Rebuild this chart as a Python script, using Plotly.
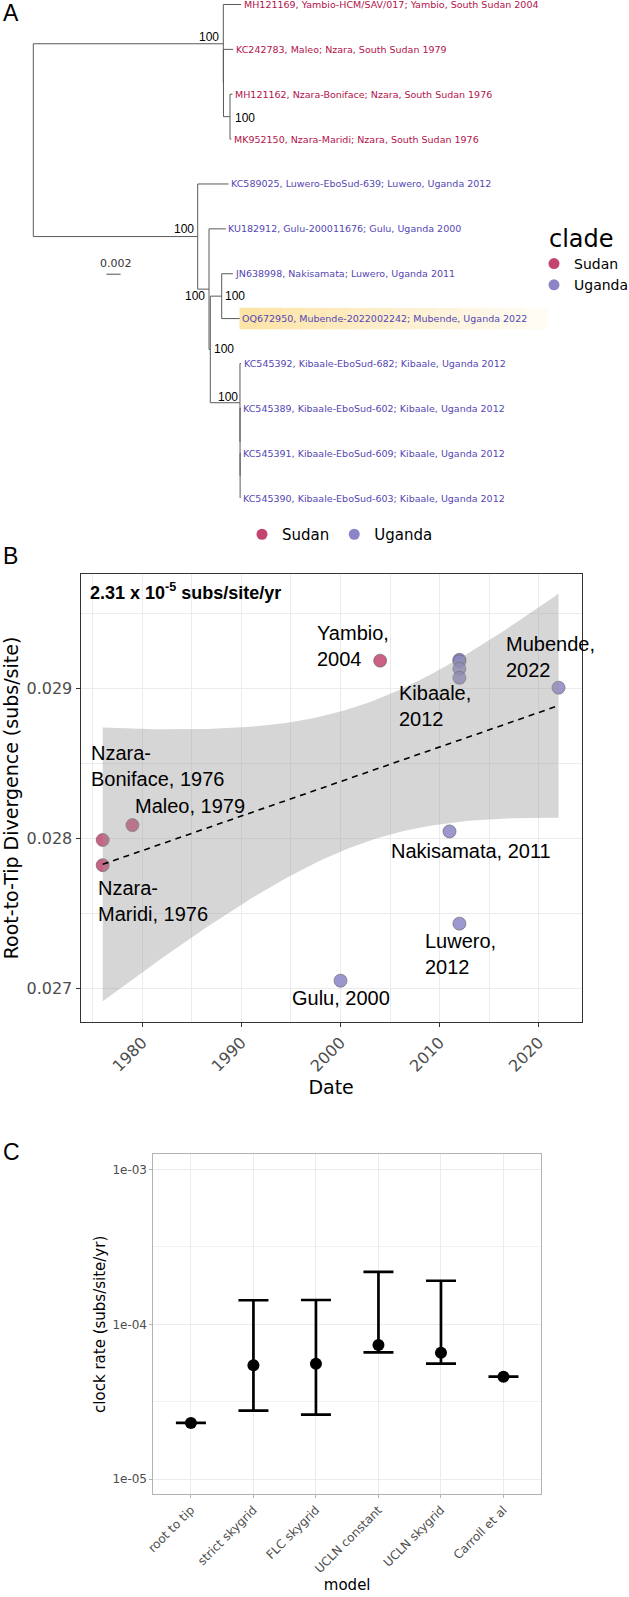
import numpy as np
import plotly.graph_objects as go

W, H = 629, 1597

# ---------------- data: tips (tree order, top to bottom) ----------------
tip_labels = [
    "MH121169, Yambio-HCM/SAV/017; Yambio, South Sudan 2004",
    "KC242783, Maleo; Nzara, South Sudan 1979",
    "MH121162, Nzara-Boniface; Nzara, South Sudan 1976",
    "MK952150, Nzara-Maridi; Nzara, South Sudan 1976",
    "KC589025, Luwero-EboSud-639; Luwero, Uganda 2012",
    "KU182912, Gulu-200011676; Gulu, Uganda 2000",
    "JN638998, Nakisamata; Luwero, Uganda 2011",
    "OQ672950, Mubende-2022002242; Mubende, Uganda 2022",
    "KC545392, Kibaale-EboSud-682; Kibaale, Uganda 2012",
    "KC545389, Kibaale-EboSud-602; Kibaale, Uganda 2012",
    "KC545391, Kibaale-EboSud-609; Kibaale, Uganda 2012",
    "KC545390, Kibaale-EboSud-603; Kibaale, Uganda 2012",
]
tip_clade = ["Sudan"] * 4 + ["Uganda"] * 8
tip_year = [2004, 1979, 1976, 1976, 2012, 2000, 2011, 2022, 2012, 2012, 2012, 2012]
tip_rtt = [0.029184, 0.028089, 0.027990, 0.027822, 0.027433, 0.027053,
           0.028047, 0.029004, 0.029190, 0.029180, 0.029130, 0.029070]
point_labels = ["Yambio,<br>2004", "Maleo, 1979", "Nzara-<br>Boniface, 1976",
                "Nzara-<br>Maridi, 1976", "Luwero,<br>2012", "Gulu, 2000",
                "Nakisamata, 2011", "Mubende,<br>2022", "Kibaale,<br>2012", "", "", ""]
highlight_tip = 7  # OQ672950

# internal nodes: name, divergence from root, children (int = tip index)
node_names = ["root", "Sudan", "S2", "Nzara", "Uganda", "U2", "U3", "U4", "K1", "K2", "K3"]
node_depth = [0.0, 0.02670, 0.02672, 0.02764, 0.02310, 0.02469, 0.02487, 0.02647, 0.02904, 0.02905, 0.02906]
node_children = [["Sudan", "Uganda"], [0, "S2"], [1, "Nzara"], [2, 3], [4, "U2"], [5, "U3"],
                 ["U4", "K1"], [6, 7], [8, "K2"], [9, "K3"], [10, 11]]
node_support = {"Sudan": "100", "Nzara": "100", "Uganda": "100", "U2": "100",
                "U4": "100", "U3": "100", "K1": "100"}
scale_bar_len = 0.002

# ---------------- data: panel C ----------------
models = ["root to tip", "strict skygrid", "FLC skygrid", "UCLN constant", "UCLN skygrid", "Carroll et al"]
rate = [2.31e-5, 5.44e-5, 5.57e-5, 7.35e-5, 6.56e-5, 4.59e-5]
rate_lower = [2.31e-5, 2.77e-5, 2.61e-5, 6.59e-5, 5.57e-5, 4.59e-5]
rate_upper = [2.31e-5, 1.43e-4, 1.435e-4, 2.18e-4, 1.91e-4, 4.59e-5]

clade_point = {"Sudan": "#C2446F", "Uganda": "#8B85C7"}
clade_text = {"Sudan": "#B3124A", "Uganda": "#5447B3"}

DJ = "DejaVu Sans"
LS = "Liberation Sans, Arial"


def py(px):
    return 1 - px / H


fig = go.Figure()

# ================= Panel A: tree =================
depth = {n: d for n, d in zip(node_names, node_depth)}
kids = {n: c for n, c in zip(node_names, node_children)}
for i in range(len(tip_labels)):
    depth[i] = tip_rtt[i]
ypos = {i: i + 1 for i in range(len(tip_labels))}


def get_y(n):
    if n in ypos:
        return ypos[n]
    ypos[n] = float(np.mean([get_y(c) for c in kids[n]]))
    return ypos[n]


get_y("root")
lx, ly = [], []
for n in node_names:
    cy = [ypos[c] for c in kids[n]]
    lx += [depth[n], depth[n], None]
    ly += [min(cy), max(cy), None]
    for c in kids[n]:
        lx += [depth[n], depth[c], None]
        ly += [ypos[c], ypos[c], None]

# highlight band behind the Mubende label (gradient)
hx0 = depth[highlight_tip] - 0.00003
hx1 = hx0 + 0.0433
nseg = 14
for k in range(nseg):
    a0 = hx0 + (hx1 - hx0) * k / nseg
    a1 = hx0 + (hx1 - hx0) * (k + 1) / nseg
    op = 0.8 * (1 - k / nseg) + 0.05
    fig.add_shape(type="rect", xref="x3", yref="y3", x0=a0, x1=a1,
                  y0=ypos[highlight_tip] - 0.24, y1=ypos[highlight_tip] + 0.24,
                  fillcolor=f"rgba(252,222,150,{op:.3f})", line_width=0, layer="below")

fig.add_trace(go.Scatter(x=lx, y=ly, mode="lines", line=dict(color="#5a5a5a", width=1),
                         xaxis="x3", yaxis="y3", showlegend=False, hoverinfo="skip"))
for i, lab in enumerate(tip_labels):
    fig.add_annotation(x=depth[i], y=ypos[i], xref="x3", yref="y3", text=lab, showarrow=False,
                       xanchor="left", yanchor="middle", xshift=0.5,
                       font=dict(family=DJ, size=9.5, color=clade_text[tip_clade[i]]))

label_pos = {"Sudan": ("right", -2, 7), "Nzara": ("left", 3, -1), "Uganda": ("right", -2, 8),
             "U2": ("right", -2, -6.5), "U4": ("left", 1.5, 0), "U3": ("left", 1.5, 0),
             "K1": ("right", 0, 5.5)}
for n, s in node_support.items():
    xa, dx, dy = label_pos[n]
    fig.add_annotation(x=depth[n], y=ypos[n], xref="x3", yref="y3", text=s, showarrow=False,
                       xanchor=xa, yanchor="middle", xshift=dx, yshift=dy,
                       font=dict(family=LS, size=12, color="black"))

# scale bar
sb_x0 = 0.01027
sb_y = 7.013
fig.add_trace(go.Scatter(x=[sb_x0, sb_x0 + scale_bar_len], y=[sb_y, sb_y], mode="lines",
                         line=dict(color="#8a8a8a", width=1.5), xaxis="x3", yaxis="y3",
                         showlegend=False, hoverinfo="skip"))
fig.add_annotation(x=sb_x0 + scale_bar_len / 2, y=sb_y, xref="x3", yref="y3",
                   text=f"{scale_bar_len:.3f}", showarrow=False, yanchor="bottom", yshift=2, xshift=2,
                   font=dict(family=DJ, size=11, color="#333333"))

# legends
for c in ["Sudan", "Uganda"]:
    fig.add_trace(go.Scatter(x=[None], y=[None], mode="markers", name=c,
                             marker=dict(color=clade_point[c], size=11, line=dict(width=0)),
                             xaxis="x3", yaxis="y3", legend="legend"))
    fig.add_trace(go.Scatter(x=[None], y=[None], mode="markers", name=c,
                             marker=dict(color=clade_point[c], size=11, line=dict(width=0)),
                             xaxis="x3", yaxis="y3", legend="legend2"))
fig.add_annotation(x=547 / W, y=py(239), xref="paper", yref="paper", text="clade",
                   showarrow=False, xanchor="left", yanchor="middle",
                   font=dict(family=DJ, size=24, color="black"))

# ================= Panel B: root-to-tip =================
fig.add_trace(go.Scatter(x=tip_year, y=tip_rtt, mode="markers",
                         marker=dict(size=13, color=[clade_point[c] for c in tip_clade], opacity=0.85,
                                     line=dict(color="#555555", width=0.7)),
                         xaxis="x", yaxis="y", showlegend=False))

xarr = np.array(tip_year, float)
yarr = np.array(tip_rtt, float)
slope, intercept = np.polyfit(xarr, yarr, 1)
n = len(xarr)
resid = yarr - (slope * xarr + intercept)
s_err = np.sqrt(np.sum(resid ** 2) / (n - 2))
sxx = np.sum((xarr - xarr.mean()) ** 2)
t975 = 2.228  # t quantile, df = 10
xg = np.linspace(xarr.min(), xarr.max(), 80)
fit = slope * xg + intercept
half = t975 * s_err * np.sqrt(1 / n + (xg - xarr.mean()) ** 2 / sxx)
fig.add_trace(go.Scatter(x=np.concatenate([xg, xg[::-1]]), y=np.concatenate([fit + half, (fit - half)[::-1]]),
                         fill="toself", fillcolor="rgba(153,153,153,0.4)", line=dict(width=0),
                         mode="lines", xaxis="x", yaxis="y", showlegend=False, hoverinfo="skip"))
fig.add_trace(go.Scatter(x=xg, y=fit, mode="lines", line=dict(color="black", width=1.6, dash="6px,5px"),
                         xaxis="x", yaxis="y", showlegend=False, hoverinfo="skip"))

lab_off = {0: ("left", -65, 14.7), 1: ("left", 1, 19.6), 2: ("left", -13.7, 74), 3: ("left", -6.3, -35.8),
           4: ("left", -36.4, -30.3), 5: ("center", 0, -17.3), 6: ("left", -60.7, -19.3),
           7: ("left", -54.2, 30.7), 8: ("left", -62.6, -46.2)}
for i, (xa, dx, dy) in lab_off.items():
    fig.add_annotation(x=tip_year[i], y=tip_rtt[i], xref="x", yref="y", text=point_labels[i],
                       showarrow=False, xanchor=xa, align=xa if xa != "center" else "center",
                       xshift=dx, yshift=dy, font=dict(family=LS, size=20, color="black"))

fig.add_annotation(x=88 / W, y=py(591), xref="paper", yref="paper",
                   text=f"<b>{rate[0] * 1e5:.2f} x 10<sup>-5</sup> subs/site/yr</b>", showarrow=False,
                   xanchor="left", yanchor="middle", font=dict(family=LS, size=18, color="black"))

# ================= Panel C: clock rates =================
fig.add_trace(go.Scatter(x=models, y=rate, mode="markers",
                         marker=dict(color="black", size=12),
                         error_y=dict(type="data", symmetric=False,
                                      array=[u - r for u, r in zip(rate_upper, rate)],
                                      arrayminus=[r - l for r, l in zip(rate, rate_lower)],
                                      color="black", thickness=2.7, width=15),
                         xaxis="x2", yaxis="y2", showlegend=False))

# panel letters
for letter, cy in [("A", 13.5), ("B", 556), ("C", 1152)]:
    fig.add_annotation(x=1 / W, y=py(cy), xref="paper", yref="paper", text=letter, showarrow=False,
                       xanchor="left", yanchor="middle", font=dict(family=LS, size=23, color="black"))

grid_b = "#ebebeb"
fig.update_layout(
    width=W, height=H, margin=dict(l=0, r=0, t=0, b=0, autoexpand=False),
    paper_bgcolor="white", plot_bgcolor="white",
    legend=dict(x=534 / W, y=py(248), xanchor="left", yanchor="top",
                font=dict(family=DJ, size=14, color="black"),
                bgcolor="rgba(0,0,0,0)", itemsizing="trace", tracegroupgap=0),
    legend2=dict(x=242 / W, y=py(518), xanchor="left", yanchor="top", orientation="h",
                 font=dict(family=DJ, size=15, color="black"), bgcolor="rgba(0,0,0,0)",
                 itemsizing="trace"),
    xaxis3=dict(domain=[0, 1], range=[-33.3 / 7117, (W - 33.3) / 7117], visible=False, anchor="y3",
                automargin=False),
    yaxis3=dict(domain=[py(540), 1], range=[1 + 535.5 / 44.87, 1 - 4.5 / 44.87], visible=False, anchor="x3",
                automargin=False),
    xaxis=dict(domain=[80.5 / W, 581.7 / W], range=[1973.76, 2024.34], anchor="y", automargin=False,
               tick0=1980, dtick=10, tickangle=-45, ticks="outside", ticklen=4, tickcolor="#333333",
               tickfont=dict(family=DJ, size=16, color="#4d4d4d"),
               showline=True, mirror=True, linecolor="#333333", linewidth=1,
               showgrid=True, gridcolor=grid_b, gridwidth=1, zeroline=False,
               minor=dict(dtick=5, tick0=1975, showgrid=True, gridcolor=grid_b, gridwidth=0.6),
               title=dict(text="Date", font=dict(family=DJ, size=19, color="black"), standoff=6)),
    yaxis=dict(domain=[py(1022), py(574)], range=[0.026778, 0.029761], anchor="x", automargin=False,
               tick0=0.027, dtick=0.001, tickformat=".3f", ticks="outside", ticklen=4, tickcolor="#333333",
               tickfont=dict(family=DJ, size=16, color="#4d4d4d"),
               showline=True, mirror=True, linecolor="#333333", linewidth=1,
               showgrid=True, gridcolor=grid_b, gridwidth=1, zeroline=False,
               minor=dict(dtick=0.0005, tick0=0.0265, showgrid=True, gridcolor=grid_b, gridwidth=0.6),
               title=dict(text="Root-to-Tip Divergence (subs/site)", font=dict(family=DJ, size=19, color="black"),
                          standoff=8)),
    xaxis2=dict(domain=[153.4 / W, 541 / W], type="category", categoryorder="array", categoryarray=models,
                range=[-0.6, 5.6], anchor="y2", automargin=False, tickangle=-45, ticks="outside", ticklen=3,
                tickcolor="#b3b3b3", tickfont=dict(family=DJ, size=12, color="#4d4d4d"),
                showline=True, mirror=True, linecolor="#b3b3b3", linewidth=1,
                showgrid=True, gridcolor="#ebebeb", gridwidth=0.8, zeroline=False,
                title=dict(text="model", font=dict(family=DJ, size=15, color="black"), standoff=3)),
    yaxis2=dict(domain=[py(1494.3), py(1154.3)], type="log", range=[-5.097, -2.903], anchor="x2",
                automargin=False, tickmode="array", tickvals=[1e-5, 1e-4, 1e-3],
                ticktext=["1e-05", "1e-04", "1e-03"],
                ticks="outside", ticklen=3, tickcolor="#b3b3b3",
                tickfont=dict(family=DJ, size=12, color="#4d4d4d"),
                showline=True, mirror=True, linecolor="#b3b3b3", linewidth=1,
                showgrid=True, gridcolor="#ebebeb", gridwidth=0.8, zeroline=False,
                minor=dict(tickmode="array", tickvals=[10 ** -4.5, 10 ** -3.5], showgrid=True,
                           gridcolor="#f2f2f2", gridwidth=0.6),
                title=dict(text="clock rate (subs/site/yr)", font=dict(family=DJ, size=15, color="black"),
                           standoff=3)),
)

fig.write_html("out.html", config={"displayModeBar": False},
               post_script="document.body.style.margin='0';")
